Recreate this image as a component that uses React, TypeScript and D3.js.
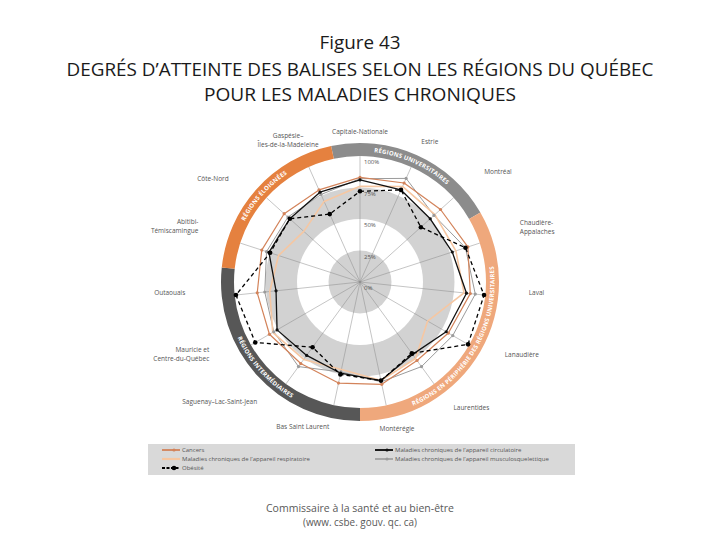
import React from "react";
import * as d3 from "d3";

// ---------- DATA ----------
const regions = [
  "Capitale-Nationale",
  "Estrie",
  "Montréal",
  "Chaudière-|Appalaches",
  "Laval",
  "Lanaudière",
  "Laurentides",
  "Montérégie",
  "Bas Saint Laurent",
  "Saguenay–Lac-Saint-Jean",
  "Mauricie et|Centre-du-Québec",
  "Outaouais",
  "Abitibi-|Témiscamingue",
  "Côte-Nord",
  "Gaspésie–|Îles-de-la-Madeleine",
];

const cancers = [83, 86, 86, 90, 88, 81, 77, 83, 82, 80, 83, 82, 82, 81, 80];
const respiratoire = [76, 83, 80, 80, 83, 62, 75, 80, 71, 76, 80, 72, 68, 60, 70];
const obesite = [72, 80, 65, 88, 99, 99, 70, 80, 75, 64, 96, 99, 75, 75, 59];
const circulatoire = [81, 80, 75, 77, 85, 79, 71, 80, 74, 72, 76, 67, 76, 75, 78];
const musculo = [82, 90, 79, 88, 92, 85, 83, 81, 73, 83, 79, 76, 78, 77, 76];

const ringTicks = [0, 25, 50, 75, 100];
const ringLabels = ["0%", "25%", "50%", "75%", "100%"];

const groupNames = [
  "RÉGIONS UNIVERSITAIRES",
  "RÉGIONS EN PÉRIPHÉRIE DES RÉGIONS UNIVERSITAIRES",
  "RÉGIONS INTERMÉDIAIRES",
  "RÉGIONS ÉLOIGNÉES",
];
const groupFirst = [0, 3, 8, 12];
const groupLast = [2, 7, 11, 14];

const titleLines = [
  "Figure 43",
  "DEGRÉS D’ATTEINTE DES BALISES SELON LES RÉGIONS DU QUÉBEC",
  "POUR LES MALADIES CHRONIQUES",
];
const footerLines = ["Commissaire à la santé et au bien-être", "(www. csbe. gouv. qc. ca)"];

// ---------- LAYOUT / STYLE ----------
const W = 720;
const H = 540;
const cx = 360;
const cy = 282;
const R100 = 126;
const bandOuter = 139;

const labelAngle = [0, 26.4, 48.4, 71, 93.7, 116.7, 143.5, 165.8, 201.5, 220.6, 244.5, 266.4, 289.1, 308.2, 333.1];
const labelRadius = [150, 157, 166, 169, 169, 162, 157, 151, 156, 158, 167, 175, 171, 167, 159];

const groupColors = ["#8c8c8c", "#efa87c", "#575757", "#e5813f"];
const groupTop = [true, false, false, true];

const seriesDefs = [
  { name: "Maladies chroniques de l’appareil musculosquelettique", values: musculo, color: "#9b9b9b", width: 1, dash: "", mr: 1.6 },
  { name: "Maladies chroniques de l’appareil respiratoire", values: respiratoire, color: "#f6c7a2", width: 1.6, dash: "", mr: 0 },
  { name: "Cancers", values: cancers, color: "#d3835a", width: 1.2, dash: "", mr: 1.6 },
  { name: "Maladies chroniques de l’appareil circulatoire", values: circulatoire, color: "#111111", width: 1.3, dash: "", mr: 1.6 },
  { name: "Obésité", values: obesite, color: "#000000", width: 1.3, dash: "4,3", mr: 2.3 },
];

export default function App() {
  const n = regions.length;
  const step = (2 * Math.PI) / n;
  const r = d3.scaleLinear().domain([0, 100]).range([0, R100]);
  const px = (a: number, rad: number) => cx + rad * Math.sin(a);
  const py = (a: number, rad: number) => cy - rad * Math.cos(a);

  const arcGen = d3.arc<any>().innerRadius(R100).outerRadius(bandOuter);
  const lineGen = (vals: number[]) =>
    d3
      .lineRadial<number>()
      .angle((_, i) => i * step)
      .radius((d) => r(d))
      .curve(d3.curveLinearClosed)(vals) as string;

  const font = "'Open Sans', 'DejaVu Sans', sans-serif";
  const titleFont = "'Open Sans', 'Noto Sans', sans-serif";

  const legendLeft = [2, 1, 4];
  const legendRight = [3, 0];

  const legendItem = (si: number, x: number, y: number) => {
    const s = seriesDefs[si];
    return (
      <g key={"lg" + si}>
        <line x1={x} x2={x + 18} y1={y} y2={y} stroke={s.color} strokeWidth={s.width + 0.6} strokeDasharray={s.dash ? "3,1.5" : undefined} />
        {s.mr > 0 && <circle cx={x + 12} cy={y} r={s.mr} fill={s.color} />}
        <text x={x + 20} y={y} dy="0.35em" fontSize={6} fill="#555" fontFamily={font}>
          {s.name}
        </text>
      </g>
    );
  };

  return (
    <svg width={W} height={H} style={{ position: "absolute", left: 0, top: 0, background: "#fff" }}>
      {/* Title */}
      <text x={360} y={49} textAnchor="middle" fontSize={17.5} fontWeight={400} fontFamily={titleFont} fill="#1a1a1a" textLength={81} lengthAdjust="spacingAndGlyphs">
        {titleLines[0]}
      </text>
      <text x={360} y={76} textAnchor="middle" fontSize={17.5} fontWeight={400} fontFamily={titleFont} fill="#1a1a1a" textLength={587} lengthAdjust="spacingAndGlyphs">
        {titleLines[1]}
      </text>
      <text x={360} y={101} textAnchor="middle" fontSize={17.5} fontWeight={400} fontFamily={titleFont} fill="#1a1a1a" textLength={312} lengthAdjust="spacingAndGlyphs">
        {titleLines[2]}
      </text>

      {/* Background rings */}
      <circle cx={cx} cy={cy} r={r(75)} fill="#d2d2d2" />
      <circle cx={cx} cy={cy} r={r(50)} fill="#ffffff" />
      <circle cx={cx} cy={cy} r={r(25)} fill="#d2d2d2" />

      {/* Axes */}
      {regions.map((_, i) => (
        <line key={"ax" + i} x1={cx} y1={cy} x2={px(i * step, R100)} y2={py(i * step, R100)} stroke="#8a8a8a" strokeWidth={0.5} />
      ))}

      {/* Ring labels */}
      {ringTicks.map((t, i) => (
        <text key={"rl" + i} x={cx + 4} y={cy - r(t) + 8} fontSize={6} fill="#555" fontFamily={font}>
          {ringLabels[i]}
        </text>
      ))}

      {/* Group bands */}
      {groupNames.map((g, gi) => {
        const a0 = (groupFirst[gi] - 0.5) * step;
        const a1 = (groupLast[gi] + 0.5) * step;
        const path = arcGen({ startAngle: a0, endAngle: a1 }) as string;
        const top = groupTop[gi];
        const rt = top ? 130.4 : 134.6;
        const large = a1 - a0 > Math.PI ? 1 : 0;
        const tp = top
          ? `M${px(a0, rt)},${py(a0, rt)} A${rt},${rt} 0 ${large} 1 ${px(a1, rt)},${py(a1, rt)}`
          : `M${px(a1, rt)},${py(a1, rt)} A${rt},${rt} 0 ${large} 0 ${px(a0, rt)},${py(a0, rt)}`;
        return (
          <g key={"gb" + gi}>
            <path d={path} transform={`translate(${cx},${cy})`} fill={groupColors[gi]} />
            <path id={"tp" + gi} d={tp} fill="none" stroke="none" />
            <text fontSize={6} fontWeight="bold" fill="#ffffff" fontFamily={font} letterSpacing={0.2}>
              <textPath href={"#tp" + gi} startOffset="50%" textAnchor="middle">
                {g}
              </textPath>
            </text>
          </g>
        );
      })}

      {/* Series */}
      <g transform={`translate(${cx},${cy})`}>
        {seriesDefs.map((s, si) => (
          <path key={"s" + si} d={lineGen(s.values)} fill="none" stroke={s.color} strokeWidth={s.width} strokeDasharray={s.dash || undefined} strokeLinejoin="round" />
        ))}
      </g>
      {seriesDefs.map((s, si) =>
        s.mr > 0
          ? s.values.map((v, i) => (
              <circle key={"m" + si + "-" + i} cx={px(i * step, r(v))} cy={py(i * step, r(v))} r={s.mr} fill={s.color} />
            ))
          : null
      )}

      {/* Region labels */}
      {regions.map((name, i) => {
        const a = (labelAngle[i] * Math.PI) / 180;
        const x = px(a, labelRadius[i]);
        const y = py(a, labelRadius[i]);
        const s = Math.sin(a);
        const anchor = s > 0.5 ? "start" : s < -0.5 ? "end" : "middle";
        const lines = name.split("|");
        const lh = 9;
        return (
          <text key={"lb" + i} x={x} y={y - ((lines.length - 1) * lh) / 2} textAnchor={anchor} fontSize={6.5} fill="#555" fontFamily={font}>
            {lines.map((l, li) => (
              <tspan key={li} x={x} dy={li === 0 ? "0.35em" : lh}>
                {l}
              </tspan>
            ))}
          </text>
        );
      })}

      {/* Legend */}
      <rect x={148} y={444} width={427} height={31} fill="#d9d9d9" />
      {legendLeft.map((si, k) => legendItem(si, 162, 450 + k * 9))}
      {legendRight.map((si, k) => legendItem(si, 375, 450 + k * 9))}

      {/* Footer */}
      <text x={360} y={512} textAnchor="middle" fontSize={10.5} fill="#595959" fontFamily={titleFont} textLength={188} lengthAdjust="spacingAndGlyphs">
        {footerLines[0]}
      </text>
      <text x={360} y={526} textAnchor="middle" fontSize={10.5} fill="#595959" fontFamily={titleFont} textLength={114} lengthAdjust="spacingAndGlyphs">
        {footerLines[1]}
      </text>
    </svg>
  );
}
